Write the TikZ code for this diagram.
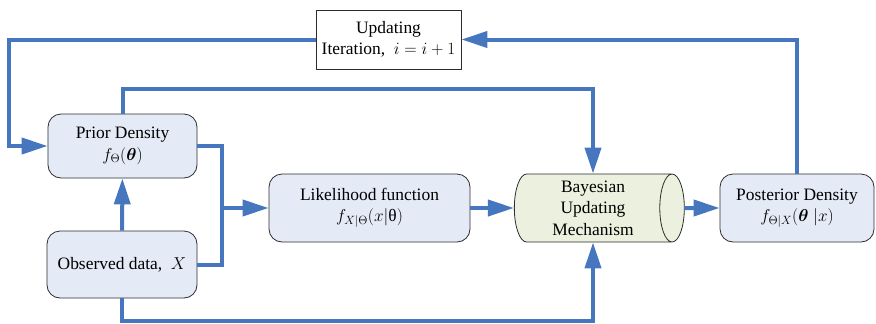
\documentclass[tikz,border=0pt]{standalone}
\usepackage{amsmath}
\usepackage{amssymb}
\usepackage{bm}
\usepackage{fontspec}
\setmainfont{Liberation Serif}
\usetikzlibrary{shapes.geometric}
\usetikzlibrary{arrows.meta}
\usetikzlibrary{positioning}
\definecolor{flowblue}{RGB}{70,118,189}
\definecolor{boxblue}{RGB}{228,234,246}
\definecolor{boxgreen}{RGB}{235,241,222}
\definecolor{boxline}{RGB}{45,45,45}

\begin{document}
\begin{tikzpicture}[x=1bp,y=-1bp,>={Triangle[length=26bp,width=16bp]},
    flow/.style={draw=flowblue,line width=4bp},
    main node/.style={rectangle,rounded corners=13bp,draw=boxline,line width=0.8bp,fill=boxblue,
      align=center,font=\fontsize{17.5}{21.5}\selectfont,inner sep=0pt},
    iter node/.style={main node,rounded corners=0pt,fill=white},
    mech node/.style={main node,sharp corners,shape=cylinder,shape border rotate=0,aspect=0.45,fill=boxgreen}]
  \useasboundingbox (0,0) rectangle (876,323);

  \node[iter node,minimum width=145bp,minimum height=59bp] (upd) at (388.5,39.5) {Updating\\Iteration,~~$i=i+1$};
  \node[main node,minimum width=149bp,minimum height=64bp] (prior) at (122.5,146) {Prior Density\\$f_{\Theta}(\bm{\theta})$};
  \node[main node,minimum width=150bp,minimum height=67bp] (obs) at (122,264.5) {Observed data,~~$X$};
  \node[main node,minimum width=201bp,minimum height=68bp] (lik) at (369.5,208) {Likelihood function\\$f_{X|\Theta}(x|\text{θ})$};
  \node[mech node,minimum height=170bp,minimum width=68bp] (bay) at (593,208) {Bayesian\\Updating\\Mechanism};
  \node[main node,minimum width=154bp,minimum height=68bp] (post) at (797,208) {Posterior Density\\$f_{\Theta|X}(\bm{\theta}\;|x)$};

  \coordinate (back) at (9,40);
  \coordinate (join) at (222,208);

  % feedback loop
  \draw[flow,->] (post.north) |- (upd.east);
  \draw[flow,->] (upd.west) -- (upd.west -| back) |- (prior.west);
  % inputs to the mechanism
  \draw[flow,->] (prior.north) -- ++(0,-25) -| (bay.north);
  \draw[flow] (prior.east) -| (join);
  \draw[flow] (obs.east) -| (join);
  \draw[flow,->] (join) -- (lik.west);
  \draw[flow,->] (obs) -- (prior);
  \draw[flow,->] (obs.south) -- ++(0,23) -| (bay.south);
  \draw[flow,->] (lik) -- (bay);
  \draw[flow,->] (bay) -- (post);
\end{tikzpicture}
\end{document}
